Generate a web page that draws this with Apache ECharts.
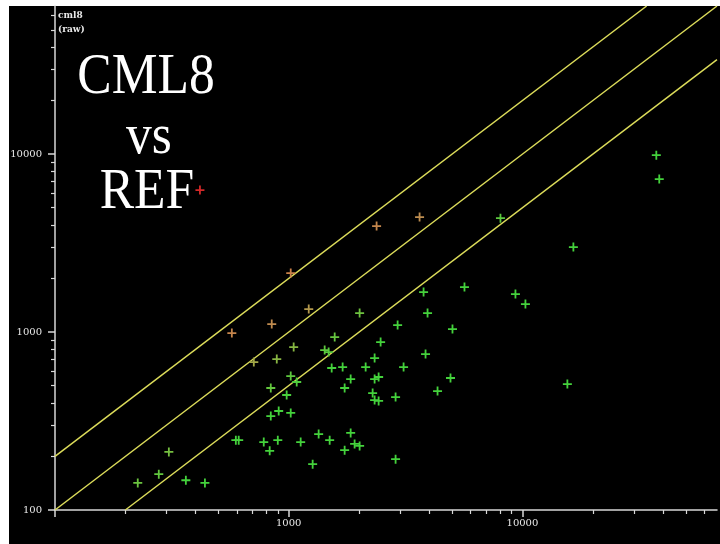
<!DOCTYPE html>
<html><head><meta charset="utf-8">
<script src="https://cdn.jsdelivr.net/npm/echarts@6/dist/echarts.min.js"></script>
<style>
html,body{margin:0;padding:0;background:#fff;}
#bg{position:absolute;left:9px;top:6px;width:711px;height:538px;background:#000;}
#main{position:absolute;left:0;top:0;width:720px;height:544px;}
</style></head><body>
<div id="bg"></div><div id="main"></div>
<script>
// REF (x) and CML8 (y) raw values
const refValues = [417,1020,2377,3630,1218,846,571,709,889,1050,
  226,278,307,363,438,594,611,782,829,898,
  838,906,1020,1125,1266,1343,2011,2924,1573,2473,
  1425,1482,2331,1527,1701,2134,3101,1020,1082,1841,
  2331,2425,838,1735,980,2286,2331,2425,2866,1497,
  1841,1735,1914,2011,2866,3776,5650,9335,10300,3927,
  5020,3850,4923,4333,37400,38500,8054,16520,15570];
const cml8Values = [6280,2145,3940,4427,1347,1109,987,678,705,824,
  142,159,212,147,142,247,247,241,215,247,
  337,360,351,241,181,267,1279,1095,937,879,
  792,772,714,628,636,636,636,566,524,544,
  544,559,485,485,443,454,415,410,431,247,
  271,217,235,229,193,1677,1790,1635,1437,1279,
  1040,752,552,466,9870,7237,4366,3002,510];

// reference lines (endpoints): y = 2x, y = x, y = x/2
const lineUpper = [[100,200],[34000,68000]];
const lineEqual = [[100,100],[68000,68000]];
const lineLower = [[200,100],[68000,34000]];

// axes
const axisMin = 100, axisMax = 68000;
const xLabels = [1000, 10000];
const yLabels = [100, 1000, 10000];
const majorTicks = [100, 1000, 10000];
const minorTicks = [200,300,400,500,600,700,800,900,
  2000,3000,4000,5000,6000,7000,8000,9000,
  20000,30000,40000,50000,60000];

const points = refValues.map((x, i) => [x, cml8Values[i]]);

// colour by log2(cml8/ref)
const stops = [
  [-1.2, [68,210,60]],
  [-0.5, [120,190,64]],
  [0.0, [168,164,72]],
  [0.3, [190,140,80]],
  [1.0, [200,130,74]],
  [2.0, [208,96,64]],
  [3.9, [210,40,40]]
];
function colorFor(v) {
  const r = Math.log2(v[1] / v[0]);
  if (r <= stops[0][0]) return 'rgb(' + stops[0][1].join(',') + ')';
  for (let i = 1; i < stops.length; i++) {
    if (r <= stops[i][0]) {
      const t = (r - stops[i-1][0]) / (stops[i][0] - stops[i-1][0]);
      const c = stops[i-1][1].map((a, k) => Math.round(a + (stops[i][1][k] - a) * t));
      return 'rgb(' + c.join(',') + ')';
    }
  }
  return 'rgb(' + stops[stops.length-1][1].join(',') + ')';
}

const axisColor = '#d8d8d8';
const labelFont = 'DejaVu Serif';
function mainAxis(pos, labels, margin) {
  return {
    type: 'log', logBase: 10, min: axisMin, max: axisMax, position: pos,
    axisLine: { show: true, onZero: false, lineStyle: { color: axisColor, width: 1.5 } },
    axisTick: { show: true, length: 7, customValues: majorTicks, lineStyle: { color: axisColor, width: 1.5 } },
    minorTick: { show: false },
    axisLabel: { show: true, customValues: labels, color: '#e8e8e8', fontSize: 10, fontFamily: labelFont, margin: margin, formatter: v => String(v) },
    splitLine: { show: false }
  };
}
function minorAxis(pos) {
  return {
    type: 'log', logBase: 10, min: axisMin, max: axisMax, position: pos,
    axisLine: { show: false, onZero: false },
    axisTick: { show: true, length: 4, customValues: minorTicks, lineStyle: { color: axisColor, width: 1.2 } },
    axisLabel: { show: false },
    splitLine: { show: false }
  };
}

const chart = echarts.init(document.getElementById('main'), null, { renderer: 'canvas' });
const lineStyle = { color: '#dcdc5a', width: 1.5 };
function refLine(data) {
  return { type: 'line', data: data, symbol: 'none', lineStyle: lineStyle, silent: true, animation: false, clip: true, z: 1 };
}
chart.setOption({
  backgroundColor: 'transparent',
  animation: false,
  grid: { left: 55, right: 3, top: 6, bottom: 34, containLabel: false },
  xAxis: [mainAxis('bottom', xLabels, 8), minorAxis('bottom')],
  yAxis: [mainAxis('left', yLabels, 13), minorAxis('left')],
  series: [
    refLine(lineUpper), refLine(lineEqual), refLine(lineLower),
    {
      type: 'scatter', data: points, z: 3,
      symbol: 'path://M4,0h2v4h4v2h-4v4h-2v-4h-4v-2h4z', symbolSize: 9,
      itemStyle: { color: p => colorFor(p.value), opacity: 1 }
    }
  ],
  graphic: [
    { type: 'text', x: 146, y: 78, scaleX: 0.92, style: { text: 'CML8', fontSize: 56, fontFamily: 'Liberation Serif', fill: '#fff', align: 'center', verticalAlign: 'middle' } },
    { type: 'text', x: 149, y: 138, scaleX: 0.92, style: { text: 'vs', fontSize: 56, fontFamily: 'Liberation Serif', fill: '#fff', align: 'center', verticalAlign: 'middle' } },
    { type: 'text', x: 147, y: 193, scaleX: 0.92, style: { text: 'REF', fontSize: 56, fontFamily: 'Liberation Serif', fill: '#fff', align: 'center', verticalAlign: 'middle' } },
    { type: 'text', x: 58, y: 16, style: { text: 'cml8', fontSize: 9, fontWeight: 'bold', fontFamily: labelFont, fill: '#e8e8e8', align: 'left', verticalAlign: 'middle' } },
    { type: 'text', x: 58, y: 30, style: { text: '(raw)', fontSize: 9, fontWeight: 'bold', fontFamily: labelFont, fill: '#e8e8e8', align: 'left', verticalAlign: 'middle' } }
  ]
});
</script>
</body></html>
